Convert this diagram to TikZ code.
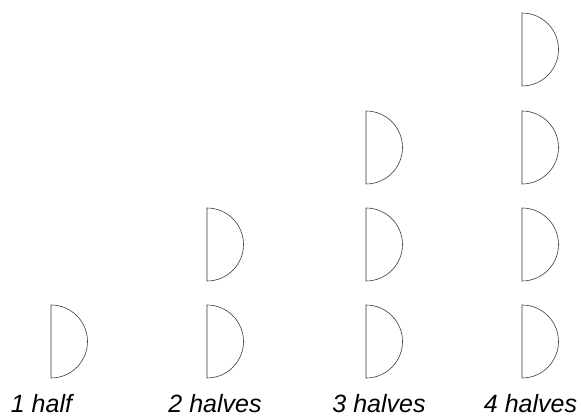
\documentclass[tikz,border=0pt]{standalone}
\usepackage{fontspec}
\setmainfont{Liberation Sans}
\usetikzlibrary{positioning}
\definecolor{ink}{HTML}{3A3A3A}
\newcommand{\halfr}{36.5pt}
\tikzset{
 every node/.append style={text=black,inner sep=0pt},
 half/.style={draw=ink,line width=.6pt},
 caption/.style={font=\fontsize{25}{28}\selectfont\itshape,anchor=base},
}

\begin{document}
\begin{tikzpicture}[x=1pt,y=1pt]

\useasboundingbox (0,0) rectangle (581,418);

% one half disc per cell, flat side to the left
\foreach \col/\x/\n in {1/51/1,2/207/2,3/366/3,4/522/4}{
  \foreach \row/\y in {1/76.5,2/173.5,3/270.5,4/368.5}{
    \ifnum\row>\n\else
      \coordinate (h\col\row) at (\x,\y);
      \draw[half] ([yshift=\halfr]h\col\row) arc (90:-90:\halfr) -- cycle;
    \fi
  }
}

\node[caption] (c1) at (41.5,6) {1 half};
\node[caption] (c2) at (215,6) {2 halves};
\node[caption] (c3) at (379,6) {3 halves};
\node[caption] (c4) at (530.5,6) {4 halves};

\end{tikzpicture}
\end{document}
